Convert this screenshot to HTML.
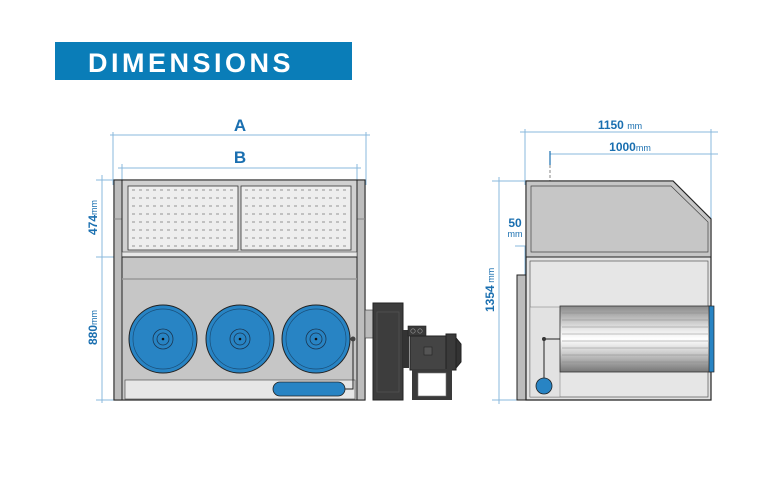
<!DOCTYPE html>
<html><head><meta charset="utf-8"><style>
html,body{margin:0;padding:0;background:#fff;}
svg{display:block;}
text{font-family:"Liberation Sans",sans-serif;}
</style></head><body>
<svg width="781" height="488" viewBox="0 0 781 488" xmlns="http://www.w3.org/2000/svg">
<rect x="0" y="0" width="781" height="488" fill="#fff"/>
<rect x="55" y="42" width="297" height="38" fill="#0a7db8"/>
<text x="88" y="72" font-size="27" font-weight="bold" fill="#fff" letter-spacing="3.5">DIMENSIONS</text>

<g stroke="#8ab8dc" stroke-width="1" fill="none">
<line x1="110" y1="135" x2="370" y2="135"/>
<line x1="113" y1="132" x2="113" y2="185"/>
<line x1="366" y1="132" x2="366" y2="185"/>
<line x1="118" y1="168" x2="361" y2="168"/>
<line x1="122" y1="164" x2="122" y2="188"/>
<line x1="357" y1="164" x2="357" y2="188"/>
<line x1="102" y1="175" x2="102" y2="403"/>
<line x1="96" y1="180" x2="125" y2="180"/>
<line x1="96" y1="257" x2="135" y2="257"/>
<line x1="96" y1="400" x2="135" y2="400"/>
</g>
<text x="240" y="131" font-size="17" font-weight="bold" fill="#1a6fb0" text-anchor="middle">A</text>
<text x="240" y="163" font-size="17" font-weight="bold" fill="#1a6fb0" text-anchor="middle">B</text>
<text transform="translate(97,235) rotate(-90)" font-size="12" font-weight="bold" fill="#1a6fb0">474<tspan font-size="9" font-weight="normal">mm</tspan></text>
<text transform="translate(97,345) rotate(-90)" font-size="12" font-weight="bold" fill="#1a6fb0">880<tspan font-size="9" font-weight="normal">mm</tspan></text>

<rect x="114" y="180" width="251" height="220" fill="#c9c9c9" stroke="#222" stroke-width="1.2"/>
<rect x="114" y="180" width="8" height="220" fill="#bdbdbd" stroke="#222" stroke-width="1"/>
<rect x="357" y="180" width="8" height="220" fill="#bdbdbd" stroke="#222" stroke-width="1"/>
<line x1="114" y1="219" x2="122" y2="219" stroke="#888"/>
<line x1="357" y1="219" x2="365" y2="219" stroke="#888"/>
<rect x="122" y="180" width="235" height="77" fill="#d0d0d0" stroke="#222" stroke-width="1"/>
<rect x="122" y="252" width="235" height="5" fill="#e8e8e8" stroke="#444" stroke-width="0.6"/>
<rect x="128" y="186" width="110" height="64" fill="#eeeeee" stroke="#333" stroke-width="0.8"/>
<rect x="241" y="186" width="110" height="64" fill="#eeeeee" stroke="#333" stroke-width="0.8"/>
<g stroke="#777" stroke-width="0.7" stroke-dasharray="3,4">
<line x1="132" y1="190" x2="236" y2="190"/><line x1="132" y1="198" x2="236" y2="198"/><line x1="132" y1="206" x2="236" y2="206"/><line x1="132" y1="214" x2="236" y2="214"/><line x1="132" y1="222" x2="236" y2="222"/><line x1="132" y1="230" x2="236" y2="230"/><line x1="132" y1="238" x2="236" y2="238"/><line x1="132" y1="246" x2="236" y2="246"/>
<line x1="245" y1="190" x2="349" y2="190"/><line x1="245" y1="198" x2="349" y2="198"/><line x1="245" y1="206" x2="349" y2="206"/><line x1="245" y1="214" x2="349" y2="214"/><line x1="245" y1="222" x2="349" y2="222"/><line x1="245" y1="230" x2="349" y2="230"/><line x1="245" y1="238" x2="349" y2="238"/><line x1="245" y1="246" x2="349" y2="246"/>
</g>
<rect x="122" y="257" width="235" height="143" fill="#c6c6c6" stroke="#222" stroke-width="1"/>
<line x1="122" y1="279" x2="357" y2="279" stroke="#999" stroke-width="1.5"/>
<g>
<circle cx="163" cy="339" r="34" fill="#2884c4" stroke="#222" stroke-width="1"/>
<circle cx="163" cy="339" r="30" fill="none" stroke="#1a4e78" stroke-width="0.7"/>
<circle cx="163" cy="339" r="10" fill="none" stroke="#1a3550" stroke-width="0.8"/>
<circle cx="163" cy="339" r="6" fill="none" stroke="#1a3550" stroke-width="0.8"/>
<circle cx="163" cy="339" r="1.3" fill="#111"/>
<circle cx="240" cy="339" r="34" fill="#2884c4" stroke="#222" stroke-width="1"/>
<circle cx="240" cy="339" r="30" fill="none" stroke="#1a4e78" stroke-width="0.7"/>
<circle cx="240" cy="339" r="10" fill="none" stroke="#1a3550" stroke-width="0.8"/>
<circle cx="240" cy="339" r="6" fill="none" stroke="#1a3550" stroke-width="0.8"/>
<circle cx="240" cy="339" r="1.3" fill="#111"/>
<circle cx="316" cy="339" r="34" fill="#2884c4" stroke="#222" stroke-width="1"/>
<circle cx="316" cy="339" r="30" fill="none" stroke="#1a4e78" stroke-width="0.7"/>
<circle cx="316" cy="339" r="10" fill="none" stroke="#1a3550" stroke-width="0.8"/>
<circle cx="316" cy="339" r="6" fill="none" stroke="#1a3550" stroke-width="0.8"/>
<circle cx="316" cy="339" r="1.3" fill="#111"/>
</g>
<rect x="125" y="380" width="230" height="19" fill="#e6e6e6" stroke="#555" stroke-width="0.7"/>
<rect x="273" y="382" width="72" height="14" rx="7" fill="#2884c4" stroke="#222" stroke-width="0.8"/>
<polyline points="345,389 353,389 353,340" fill="none" stroke="#222" stroke-width="1"/>
<circle cx="353" cy="339" r="2.5" fill="#444"/>
<rect x="365" y="310" width="10" height="28" fill="#bbb" stroke="#333" stroke-width="0.6"/>
<rect x="373" y="303" width="30" height="97" fill="#3d3d3d" stroke="#222"/>
<rect x="377" y="312" width="22" height="80" fill="none" stroke="#555" stroke-width="0.7"/>
<rect x="403" y="330" width="6" height="38" fill="#333"/>
<rect x="408" y="326" width="18" height="10" fill="#3a3a3a" stroke="#222" stroke-width="0.6"/>
<circle cx="413" cy="331" r="2.2" fill="none" stroke="#999" stroke-width="0.6"/>
<circle cx="420" cy="331" r="2.2" fill="none" stroke="#999" stroke-width="0.6"/>
<rect x="410" y="336" width="36" height="34" fill="#444" stroke="#222"/>
<rect x="424" y="347" width="8" height="8" fill="#555" stroke="#222" stroke-width="0.6"/>
<rect x="446" y="334" width="10" height="36" fill="#3a3a3a" stroke="#222"/>
<polygon points="456,338 461,344 461,362 456,368" fill="#333" stroke="#222"/>
<rect x="412" y="369" width="40" height="31" fill="#3a3a3a"/>
<rect x="418" y="373" width="28" height="23" fill="#fff" stroke="#777" stroke-width="0.6"/>

<g stroke="#8ab8dc" stroke-width="1" fill="none">
<line x1="520" y1="132" x2="718" y2="132"/>
<line x1="525" y1="129" x2="525" y2="185"/>
<line x1="711" y1="129" x2="711" y2="222"/>
<line x1="550" y1="154" x2="718" y2="154"/>
<line x1="499" y1="177" x2="499" y2="404"/>
<line x1="492" y1="181" x2="528" y2="181"/>
<line x1="492" y1="400" x2="530" y2="400"/>
<line x1="515" y1="246" x2="530" y2="246"/>
<line x1="525" y1="246" x2="525" y2="275"/>
</g>
<line x1="550" y1="151" x2="550" y2="165" stroke="#1a6fb0" stroke-width="1.2"/>
<line x1="550" y1="165" x2="550" y2="255" stroke="#666" stroke-width="0.8" stroke-dasharray="3,2"/>
<text x="620" y="129" font-size="12" font-weight="bold" fill="#1a6fb0" text-anchor="middle">1150 <tspan font-size="9" font-weight="normal">mm</tspan></text>
<text x="630" y="151" font-size="12" font-weight="bold" fill="#1a6fb0" text-anchor="middle">1000<tspan font-size="9" font-weight="normal">mm</tspan></text>
<text x="515" y="227" font-size="12" font-weight="bold" fill="#1a6fb0" text-anchor="middle">50</text>
<text x="515" y="237" font-size="9" fill="#1a6fb0" text-anchor="middle">mm</text>
<text transform="translate(494,312) rotate(-90)" font-size="12" font-weight="bold" fill="#1a6fb0">1354<tspan font-size="9" font-weight="normal"> mm</tspan></text>

<rect x="517" y="275" width="9" height="125" fill="#bcbcbc" stroke="#222"/>
<polygon points="526,181 673,181 711,219 711,400 526,400" fill="#e2e2e2" stroke="#222" stroke-width="1.2"/>
<polygon points="526,181 673,181 711,219 711,257 526,257" fill="#c6c6c6" stroke="#222" stroke-width="1"/>
<polygon points="531,186 671,186 708,222 708,252 531,252" fill="#c6c6c6" stroke="#444" stroke-width="0.7"/>
<rect x="530" y="261" width="178" height="136" fill="#e6e6e6" stroke="#555" stroke-width="0.7"/>
<rect x="530" y="307" width="30" height="90" fill="#e2e2e2" stroke="#777" stroke-width="0.5"/>
<defs><linearGradient id="drum" x1="0" y1="0" x2="0" y2="1">
<stop offset="0" stop-color="#8a8a8a"/><stop offset="0.35" stop-color="#e8e8e8"/><stop offset="0.5" stop-color="#fff"/><stop offset="0.7" stop-color="#d0d0d0"/><stop offset="1" stop-color="#777"/></linearGradient></defs>
<rect x="560" y="306" width="150" height="66" fill="url(#drum)" stroke="#333" stroke-width="0.8"/>
<g stroke="#888" stroke-width="0.5">
<line x1="562" y1="313" x2="708" y2="313"/><line x1="562" y1="320" x2="708" y2="320"/><line x1="562" y1="327" x2="708" y2="327"/><line x1="562" y1="334" x2="708" y2="334"/><line x1="562" y1="341" x2="708" y2="341"/><line x1="562" y1="348" x2="708" y2="348"/><line x1="562" y1="355" x2="708" y2="355"/><line x1="562" y1="362" x2="708" y2="362"/>
</g>
<rect x="709" y="306" width="5" height="66" fill="#2884c4" stroke="#222" stroke-width="0.7"/>
<polyline points="560,339 544,339 544,380" fill="none" stroke="#222" stroke-width="1"/>
<circle cx="544" cy="339" r="2" fill="#333"/>
<circle cx="544" cy="386" r="8" fill="#2884c4" stroke="#222" stroke-width="0.8"/>
</svg>
</body></html>
